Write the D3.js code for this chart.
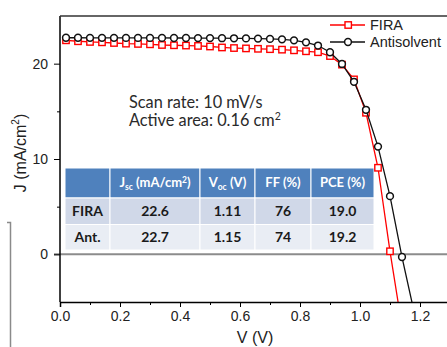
<!DOCTYPE html>
<html>
<head>
<meta charset="utf-8">
<script src="https://cdn.jsdelivr.net/npm/d3@7"></script>
<style>
  body { margin: 0; background: #fff; }
</style>
</head>
<body>
<div id="chart"></div>
<script>
// data
var voltage = [0.02, 0.06, 0.10, 0.14, 0.18, 0.22, 0.26, 0.30, 0.34, 0.38,
               0.42, 0.46, 0.50, 0.54, 0.58, 0.62, 0.66, 0.70, 0.74, 0.78,
               0.82, 0.86, 0.90, 0.94, 0.98, 1.02, 1.06, 1.10, 1.14, 1.18];
var firaJ = [22.45, 22.35, 22.28, 22.24, 22.17, 22.10, 22.07, 22.03, 21.96, 21.93,
             21.90, 21.86, 21.80, 21.70, 21.64, 21.60, 21.56, 21.52, 21.47, 21.40,
             21.30, 21.20, 20.80, 19.90, 18.35, 14.85, 9.08, 0.32, -7.6];
var antiJ = [22.72, 22.72, 22.71, 22.71, 22.71, 22.70, 22.70, 22.70, 22.70, 22.69,
             22.69, 22.68, 22.68, 22.67, 22.66, 22.65, 22.63, 22.60, 22.55, 22.45,
             22.24, 21.90, 21.20, 19.97, 18.10, 15.16, 11.30, 6.10, -0.28, -6.0];
var seriesNames = ["FIRA", "Antisolvent"];
var xMajor = [0, 0.2, 0.4, 0.6, 0.8, 1.0, 1.2];
var xMinor = [0.1, 0.3, 0.5, 0.7, 0.9, 1.1];
var yMajor = [0, 10, 20];
var yMinor = [5, 15];
var tableHead = ["", "Jsc", "Voc", "FF (%)", "PCE (%)"];
var tableRows = [
  ["FIRA", "22.6", "1.11", "76", "19.0"],
  ["Ant.", "22.7", "1.15", "74", "19.2"]
];
var notes = ["Scan rate: 10 mV/s", "Active area: 0.16 cm"];

var W = 447, H = 347;
var svg = d3.select("#chart").append("svg")
    .attr("width", W).attr("height", H)
    .style("font-family", "'Liberation Sans', Arial, sans-serif");

var x = d3.scaleLinear().domain([0, 1.3]).range([60, 450]);
var y = d3.scaleLinear().domain([-5, 25]).range([302, 16]);

// stray gray line on the left edge of the figure
svg.append("path")
    .attr("d", "M7,222.5H10.5V347")
    .attr("fill", "none").attr("stroke", "#8a8a8a").attr("stroke-width", 1.5);

// zero line
svg.append("line")
    .attr("x1", x(0) - 6).attr("x2", W)
    .attr("y1", y(0)).attr("y2", y(0))
    .attr("stroke", "#8c8c8c").attr("stroke-width", 2);

// table
var cols = [65, 110, 200, 255, 311, 374];
var rowsY = [168, 198, 224.5, 250];
var rowFill = ["#4f81bd", "#d0d8e8", "#e9edf4"];
var tbl = svg.append("g").style("font-family", "Lato, 'Open Sans', sans-serif");
for (var r = 0; r < 3; r++) {
  for (var c = 0; c < 5; c++) {
    tbl.append("rect")
        .attr("x", cols[c]).attr("y", rowsY[r])
        .attr("width", cols[c + 1] - cols[c]).attr("height", rowsY[r + 1] - rowsY[r])
        .attr("fill", rowFill[r])
        .attr("stroke", "#fff").attr("stroke-width", 1);
  }
}
var head = tbl.append("g").attr("fill", "#fff").attr("font-weight", "bold").attr("font-size", 13);
tableHead.forEach(function(h, i) {
  var t = head.append("text")
      .attr("x", (cols[i] + cols[i + 1]) / 2)
      .attr("y", (rowsY[0] + rowsY[1]) / 2 + 4)
      .attr("text-anchor", "middle");
  if (h === "Jsc") {
    t.append("tspan").text("J");
    t.append("tspan").attr("font-size", 8.5).attr("dy", 3).text("sc");
    t.append("tspan").attr("dy", -3).text(" (mA/cm");
    t.append("tspan").attr("font-size", 8.5).attr("dy", -4).text("2");
    t.append("tspan").attr("dy", 4).text(")");
  } else if (h === "Voc") {
    t.append("tspan").text("V");
    t.append("tspan").attr("font-size", 8.5).attr("dy", 3).text("oc");
    t.append("tspan").attr("dy", -3).text(" (V)");
  } else {
    t.text(h);
  }
});
tableRows.forEach(function(row, r) {
  row.forEach(function(v, i) {
    tbl.append("text")
        .attr("x", (cols[i] + cols[i + 1]) / 2)
        .attr("y", (rowsY[r + 1] + rowsY[r + 2]) / 2 + 5)
        .attr("text-anchor", "middle")
        .attr("font-size", 14).attr("font-weight", "bold")
        .attr("fill", "#1a1a1a")
        .text(v);
  });
});

// annotation
var note = svg.append("g").style("font-family", "Lato, 'Open Sans', sans-serif")
    .attr("font-size", 16.3).attr("fill", "#2a2a2a");
note.append("text").attr("x", 129).attr("y", 108).text(notes[0]);
var n2 = note.append("text").attr("x", 129).attr("y", 125.5).text(notes[1]);
n2.append("tspan").attr("font-size", 10.5).attr("dy", -6).text("2");

// curves
svg.append("defs").append("clipPath").attr("id", "clip")
    .append("rect").attr("x", 60).attr("y", 16).attr("width", W - 60).attr("height", 286);

var fira = firaJ.map(function(j, i) { return [voltage[i], j]; });
var anti = antiJ.map(function(j, i) { return [voltage[i], j]; });
var line = d3.line().x(function(d) { return x(d[0]); }).y(function(d) { return y(d[1]); });
var plot = svg.append("g").attr("clip-path", "url(#clip)");

plot.append("path").datum(fira)
    .attr("d", line).attr("fill", "none").attr("stroke", "#ff0000").attr("stroke-width", 1.3);
plot.selectAll(".sq").data(fira).enter().append("rect")
    .attr("x", function(d) { return x(d[0]) - 3.2; })
    .attr("y", function(d) { return y(d[1]) - 3.2; })
    .attr("width", 6.4).attr("height", 6.4)
    .attr("fill", "#fff").attr("stroke", "#ff0000").attr("stroke-width", 1.4);

plot.append("path").datum(anti)
    .attr("d", line).attr("fill", "none").attr("stroke", "#111").attr("stroke-width", 1.3);
plot.selectAll(".ci").data(anti).enter().append("circle")
    .attr("cx", function(d) { return x(d[0]); })
    .attr("cy", function(d) { return y(d[1]); })
    .attr("r", 3.4)
    .attr("fill", "#fff").attr("stroke", "#111").attr("stroke-width", 1.5);

// axes
svg.append("g")
    .attr("transform", "translate(0," + y(-5) + ")")
    .call(d3.axisBottom(x).tickValues(xMajor).tickFormat(d3.format(".1f")).tickSize(5).tickPadding(4))
    .call(function(g) { g.select(".domain").attr("stroke-width", 1.5); })
    .selectAll("text").attr("font-size", 14).attr("fill", "#222").attr("font-family", "'Liberation Sans', Arial");
svg.append("g")
    .attr("transform", "translate(0," + y(-5) + ")")
    .call(d3.axisBottom(x).tickValues(xMinor).tickFormat("").tickSize(3))
    .select(".domain").remove();

svg.append("g")
    .attr("transform", "translate(" + x(0) + ",0)")
    .call(d3.axisLeft(y).tickValues(yMajor).tickSize(6).tickPadding(6))
    .call(function(g) { g.select(".domain").attr("stroke-width", 1.5).attr("d", "M0," + y(-5) + "V" + y(25)); })
    .selectAll("text").attr("font-size", 14).attr("fill", "#222").attr("font-family", "'Liberation Sans', Arial");
svg.append("g")
    .attr("transform", "translate(" + x(0) + ",0)")
    .call(d3.axisLeft(y).tickValues(yMinor).tickFormat("").tickSize(3))
    .select(".domain").remove();

// top frame
svg.append("line")
    .attr("x1", x(0)).attr("x2", W).attr("y1", y(25)).attr("y2", y(25))
    .attr("stroke", "#333").attr("stroke-width", 1.5);

// axis titles
svg.append("text")
    .attr("x", x(0.65)).attr("y", 343)
    .attr("text-anchor", "middle").attr("font-size", 16).attr("fill", "#222")
    .text("V (V)");
var yl = svg.append("text")
    .attr("transform", "translate(26,153) rotate(-90)")
    .attr("text-anchor", "middle").attr("font-size", 16).attr("fill", "#222");
yl.append("tspan").text("J (mA/cm");
yl.append("tspan").attr("font-size", 10).attr("dy", -7).text("2");
yl.append("tspan").attr("dy", 7).text(")");

// legend
var leg = svg.append("g");
var legColor = ["#ff0000", "#111"];
seriesNames.forEach(function(name, i) {
  var ly = 25 + i * 17;
  leg.append("line").attr("x1", 330).attr("x2", 365).attr("y1", ly).attr("y2", ly)
      .attr("stroke", legColor[i]).attr("stroke-width", 1.5);
  if (i === 0) {
    leg.append("rect").attr("x", 345).attr("y", ly - 3.2).attr("width", 6.4).attr("height", 6.4)
        .attr("fill", "#fff").attr("stroke", legColor[i]).attr("stroke-width", 1.4);
  } else {
    leg.append("circle").attr("cx", 348).attr("cy", ly).attr("r", 3.4)
        .attr("fill", "#fff").attr("stroke", legColor[i]).attr("stroke-width", 1.5);
  }
  leg.append("text").attr("x", 370).attr("y", ly + 5).attr("font-size", 14.5).attr("fill", "#222").text(name);
});
</script>
</body>
</html>
